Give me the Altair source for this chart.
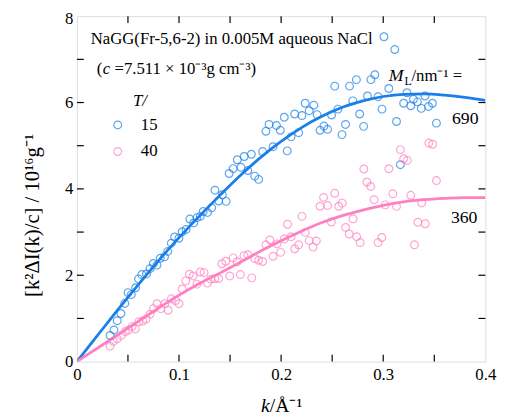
import altair as alt
import pandas as pd

# ---------------- data ----------------
blue_k = [0.0325, 0.0363, 0.0395, 0.0431, 0.0469, 0.0501, 0.0533, 0.0575, 0.0604, 0.0636,
          0.0681, 0.0716, 0.0749, 0.0784, 0.0816, 0.0858, 0.0890, 0.0925, 0.0957, 0.0999,
          0.1031, 0.1070, 0.1106, 0.1144, 0.1176, 0.1208, 0.1237, 0.1279, 0.1320, 0.1352,
          0.1388, 0.1424, 0.1462, 0.1491, 0.1530, 0.1571, 0.1607, 0.1639, 0.1674, 0.1709,
          0.1742, 0.1780, 0.1819, 0.1851, 0.1882, 0.1921, 0.1954, 0.1992, 0.2031, 0.2060,
          0.2098, 0.2133, 0.2172, 0.2204, 0.2236, 0.2275, 0.2320, 0.2352, 0.2381, 0.2419,
          0.2455, 0.2494, 0.2525, 0.2557, 0.2596, 0.2631, 0.2670, 0.2702, 0.2737, 0.2769,
          0.2808, 0.2846, 0.2879, 0.2918, 0.2949, 0.2988, 0.3007, 0.3055, 0.3113, 0.3130,
          0.3168, 0.3200, 0.3232, 0.3270, 0.3296, 0.3335, 0.3373, 0.3409, 0.3444, 0.3482,
          0.3521]
blue_y = [0.607, 0.734, 0.948, 1.114, 1.348, 1.598, 1.552, 1.711, 1.916, 2.016,
          2.030, 2.152, 2.273, 2.234, 2.393, 2.425, 2.552, 2.743, 2.886, 2.857,
          3.007, 3.061, 3.302, 3.211, 3.334, 3.364, 3.477, 3.455, 3.561, 3.970,
          3.720, 3.864, 3.711, 4.357, 4.470, 4.675, 4.500, 4.750, 4.425, 4.802,
          4.295, 4.220, 4.864, 5.334, 5.493, 4.977, 5.470, 5.357, 5.659, 4.880,
          5.205, 5.734, 5.302, 5.698, 5.984, 5.811, 5.939, 5.720, 5.357, 5.455,
          5.380, 5.711, 6.380, 5.848, 5.257, 5.493, 6.380, 6.039, 6.530, 5.734,
          5.448, 6.152, 6.530, 6.643, 6.136, 5.848, 7.523, 6.325, 7.227, 5.561,
          4.561, 5.984, 6.227, 5.925, 6.075, 6.016, 5.864, 6.152, 5.909, 5.984,
          5.523]

pink_k = [0.0325, 0.0357, 0.0395, 0.0437, 0.0475, 0.0508, 0.0540, 0.0572, 0.0607, 0.0646,
          0.0678, 0.0716, 0.0749, 0.0784, 0.0822, 0.0861, 0.0893, 0.0925, 0.0967, 0.1000,
          0.1031, 0.1067, 0.1102, 0.1137, 0.1176, 0.1208, 0.1246, 0.1279, 0.1311, 0.1352,
          0.1388, 0.1420, 0.1458, 0.1497, 0.1530, 0.1568, 0.1600, 0.1636, 0.1674, 0.1713,
          0.1742, 0.1780, 0.1819, 0.1851, 0.1889, 0.1921, 0.1960, 0.1995, 0.2031, 0.2063,
          0.2098, 0.2133, 0.2172, 0.2204, 0.2236, 0.2275, 0.2313, 0.2345, 0.2381, 0.2416,
          0.2455, 0.2492, 0.2525, 0.2564, 0.2598, 0.2631, 0.2667, 0.2704, 0.2740, 0.2774,
          0.2810, 0.2840, 0.2877, 0.2911, 0.2949, 0.2986, 0.3020, 0.3055, 0.3094, 0.3130,
          0.3168, 0.3200, 0.3236, 0.3270, 0.3306, 0.3340, 0.3376, 0.3412, 0.3446, 0.3484,
          0.3521]
pink_y = [0.357, 0.470, 0.530, 0.607, 0.698, 0.734, 0.811, 0.757, 0.925, 0.939,
          0.984, 1.098, 1.227, 1.341, 1.227, 1.341, 1.189, 1.455, 1.416, 1.341,
          1.682, 1.870, 2.023, 1.984, 1.795, 2.075, 2.061, 1.818, 1.909, 1.925,
          1.925, 2.266, 2.325, 1.984, 2.402, 2.311, 2.016, 2.455, 2.477, 1.939,
          2.386, 2.348, 2.318, 2.705, 2.818, 2.439, 2.727, 2.530, 2.841, 3.182,
          2.893, 2.614, 2.705, 3.364, 2.993, 2.802, 2.652, 2.795, 3.598, 3.802,
          3.614, 3.234, 3.898, 3.598, 3.670, 3.107, 2.955, 3.307, 2.893, 2.757,
          4.461, 4.159, 4.057, 3.750, 2.757, 2.875, 3.630, 4.466, 3.886, 3.595,
          4.909, 4.698, 4.659, 3.852, 2.705, 3.227, 3.675, 3.193, 5.061, 5.034,
          4.193]

curve_k = [0.00, 0.02, 0.04, 0.06, 0.08, 0.10, 0.12, 0.14, 0.16, 0.18, 0.20,
           0.22, 0.24, 0.26, 0.28, 0.30, 0.32, 0.34, 0.36, 0.38, 0.40]
blue_fit = [0.00, 0.60, 1.20, 1.78, 2.34, 2.87, 3.37, 3.85, 4.31, 4.73, 5.10,
            5.42, 5.68, 5.89, 6.04, 6.14, 6.19, 6.20, 6.17, 6.12, 6.05]
pink_fit = [0.00, 0.31, 0.62, 0.93, 1.24, 1.54, 1.81, 2.05, 2.30, 2.56, 2.80,
            3.02, 3.22, 3.38, 3.51, 3.62, 3.70, 3.75, 3.78, 3.80, 3.80]

temps = ["15", "40"]
x_minor = [0.05, 0.10, 0.15, 0.20, 0.25, 0.30, 0.35]
y_minor = [1, 2, 3, 4, 5, 6, 7]
x_labels = [0, 0.1, 0.2, 0.3, 0.4]
y_labels = [0, 2, 4, 6, 8]

# ---------------- styling ----------------
BLUE = "#1a7fe8"
PINK = "#ff7fc0"
FONT = "Liberation Serif"
W, H = 415, 351
TICK = 7

xs = alt.Scale(domain=[0, 0.4], nice=False, zero=False)
ys = alt.Scale(domain=[0, 8], nice=False, zero=False)

x_axis = alt.Axis(values=x_labels, ticks=False, domain=False, grid=False,
                  labelFont=FONT, labelFontSize=17, labelColor="black",
                  labelPadding=5, labelFlush=False,
                  labelExpr="datum.value == 0 ? '0' : format(datum.value, '.1f')",
                  title=None)
y_axis = alt.Axis(values=y_labels, ticks=False, domain=False, grid=False,
                  labelFont=FONT, labelFontSize=17, labelColor="black",
                  labelPadding=4, labelFlush=False,
                  labelOffset={"condition": {"test": "datum.value == 8", "value": 2}, "value": 0},
                  title="[k²ΔI(k)/c] / 10¹⁶g⁻¹", titleFont=FONT, titleFontSize=21,
                  titleFontWeight="normal", titleColor="black",
                  titleAngle=270, titleX=-39, titleY=202,
                  titleAlign="center", titleBaseline="alphabetic")

X = lambda: alt.X("k:Q", scale=xs, axis=x_axis)
Y = lambda: alt.Y("v:Q", scale=ys, axis=y_axis)

pts = pd.DataFrame({
    "k": blue_k + pink_k,
    "v": blue_y + pink_y,
    "T": [temps[0]] * len(blue_k) + [temps[1]] * len(pink_k),
})
blue_curve = pd.DataFrame({"k": curve_k, "v": blue_fit})
pink_curve = pd.DataFrame({"k": curve_k, "v": pink_fit})

lines = [
    alt.Chart(blue_curve).mark_line(color=BLUE, strokeWidth=2.8, interpolate="monotone", clip=True)
    .encode(x=X(), y=Y()),
    alt.Chart(pink_curve).mark_line(color=PINK, strokeWidth=2.8, interpolate="monotone", clip=True)
    .encode(x=X(), y=Y()),
]

points = alt.Chart(pts).mark_point(filled=False, size=62, strokeWidth=1.2, shape="circle").encode(
    x=X(), y=Y(),
    color=alt.Color("T:N", scale=alt.Scale(domain=temps, range=[BLUE, PINK]),
                    legend=alt.Legend(orient="none", legendX=33, legendY=102, title=None,
                                      labelFont=FONT, labelFontSize=17, labelColor="black",
                                      labelOffset=15, rowPadding=9, symbolSize=62,
                                      symbolStrokeWidth=1.2, symbolType="circle", padding=0)),
)

# inward ticks on all four sides
xt = pd.DataFrame({"k": x_minor})
yt = pd.DataFrame({"v": y_minor})
ticks = [
    alt.Chart(xt).mark_rule(color="black", strokeWidth=1.2).encode(x=X(), y=alt.value(H), y2=alt.value(H - TICK)),
    alt.Chart(xt).mark_rule(color="black", strokeWidth=1.2).encode(x=X(), y=alt.value(0), y2=alt.value(TICK)),
    alt.Chart(yt).mark_rule(color="black", strokeWidth=1.2).encode(y=Y(), x=alt.value(0), x2=alt.value(TICK)),
    alt.Chart(yt).mark_rule(color="black", strokeWidth=1.2).encode(y=Y(), x=alt.value(W), x2=alt.value(W - TICK)),
]

def label(k, v, text, size=17, style="normal", align="left", dx=0, dy=0):
    df = pd.DataFrame({"k": [k], "v": [v], "t": [text]})
    return alt.Chart(df).mark_text(font=FONT, fontSize=size, fontStyle=style, align=align,
                                   baseline="alphabetic", color="black", dx=dx, dy=dy).encode(
        x=X(), y=Y(), text="t:N")

notes = [
    label(0.0135, 7.36, "NaGG(Fr-5,6-2) in 0.005M aqueous NaCl"),
    label(0.0195, 6.66, "("),
    label(0.0195, 6.66, "c", style="italic", dx=6),
    label(0.0195, 6.66, "=7.511 × 10⁻³g cm⁻³)", dx=18),
    label(0.0549, 5.93, "T/", style="italic"),
    label(0.3055, 6.50, "M", style="italic", size=18),
    label(0.3055, 6.50, "L", size=12, dx=16, dy=4),
    label(0.3055, 6.50, "/nm⁻¹ =", dx=23),
    label(0.3933, 5.50, "690", align="right", size=18),
    label(0.3923, 3.20, "360", align="right", size=18),
]

xtitle_df = pd.DataFrame({"t": ["k"]})
xtitle_df2 = pd.DataFrame({"t": ["/Å⁻¹"]})
xtitle = [
    alt.Chart(xtitle_df).mark_text(font=FONT, fontSize=20, fontStyle="italic", align="right",
                                   baseline="alphabetic", color="black")
    .encode(x=alt.value(196), y=alt.value(402), text="t:N"),
    alt.Chart(xtitle_df2).mark_text(font=FONT, fontSize=20, align="left",
                                    baseline="alphabetic", color="black")
    .encode(x=alt.value(196), y=alt.value(402), text="t:N"),
]

chart = alt.layer(*ticks, *lines, points, *notes, *xtitle).properties(
    width=W, height=H,
    autosize=alt.AutoSizeParams(type="none"),
    padding={"left": 70, "top": 5, "right": 21, "bottom": 55},
).configure_view(stroke="black", strokeWidth=1.6).configure(background="white").configure_axis(
    labelFont=FONT, titleFont=FONT
).configure_legend(labelFont=FONT).configure_text(font=FONT)

chart.save("out.html", embed_options={"renderer": "svg", "actions": False})
